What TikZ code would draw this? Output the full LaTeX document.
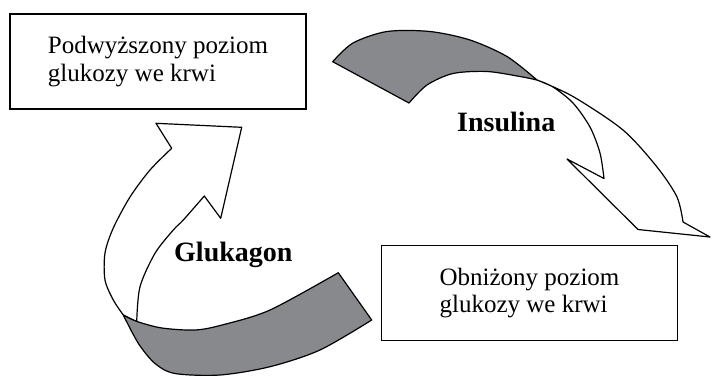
\documentclass[tikz,border=0pt]{standalone}
\usepackage{fontspec}
\setmainfont{Liberation Serif}
\usetikzlibrary{positioning}
\definecolor{ribbongray}{RGB}{135,137,141}

\begin{document}
\begin{tikzpicture}[
    x=1pt, y=-1pt,
    level/.style={draw, line width=1.4pt, minimum width=296pt, minimum height=95pt, align=left, font=\fontsize{25}{27.5}\selectfont},
    hormone/.style={anchor=base west, inner sep=0pt, font=\fontsize{28}{30}\selectfont\bfseries},
    front/.style={draw, line width=1.2pt, line join=round, fill=white},
    back/.style={draw, line width=1.2pt, line join=round, fill=ribbongray},
]
    \useasboundingbox (0,0) rectangle (713,376);

    % Glucose levels
    \node[level] (high) at (158,61.5) {Podwyższony poziom\\glukozy we krwi};
    \node[level] (low) at (529.5,293) {Obniżony poziom\\glukozy we krwi};

    % Insulina arrow
    \path[front] plot[smooth] coordinates {(537,80) (573,96.5) (623,130) (657,167) (677,197) (683,222)}
        -- (710,237) -- (638,229.5) -- (567,159) -- (604,178.5)
        -- plot[smooth] coordinates {(604,178.5) (600,153) (590,127) (573,103) (553,87) (537,80)} -- cycle;
    \path[back] plot[smooth] coordinates {(332.7,61.7) (353,43) (387,31.5) (430,31.5) (470,40) (507,56.5) (537,80)}
        -- plot[smooth] coordinates {(537,80) (520,76.5) (487,71.5) (453,73.5) (427,85) (409,103)} -- cycle;

    % Glukagon arrow
    \path[front] (204.3,196) -- (220.7,218.3) -- (241.7,127.3) -- (156,123.3) -- (171.7,148.3)
        -- plot[smooth] coordinates {(171.7,148.3) (150,170) (130,197) (113.3,228) (105,253) (105,280) (113.3,300) (123.3,315)}
        -- (136.7,321.7)
        -- plot[smooth] coordinates {(136.7,321.7) (140,286.7) (155,253.3) (173.3,230) (183.3,220) (204.3,196)} -- cycle;
    \path[back] plot[smooth] coordinates {(123.3,315) (137,321.5) (162,328) (195,330) (222,325) (270,310) (338.3,272.7)}
        -- (371.7,320)
        -- plot[smooth] coordinates {(371.7,320) (320,350) (270,366.7) (220,375) (175,373.5) (155,363.5) (138.3,343.3) (123.3,315)} -- cycle;

    % Hormones
    \node[hormone] (insulin) at (457,131) {Insulina};
    \node[hormone] (glucagon) at (174,261) {Glukagon};
\end{tikzpicture}
\end{document}
